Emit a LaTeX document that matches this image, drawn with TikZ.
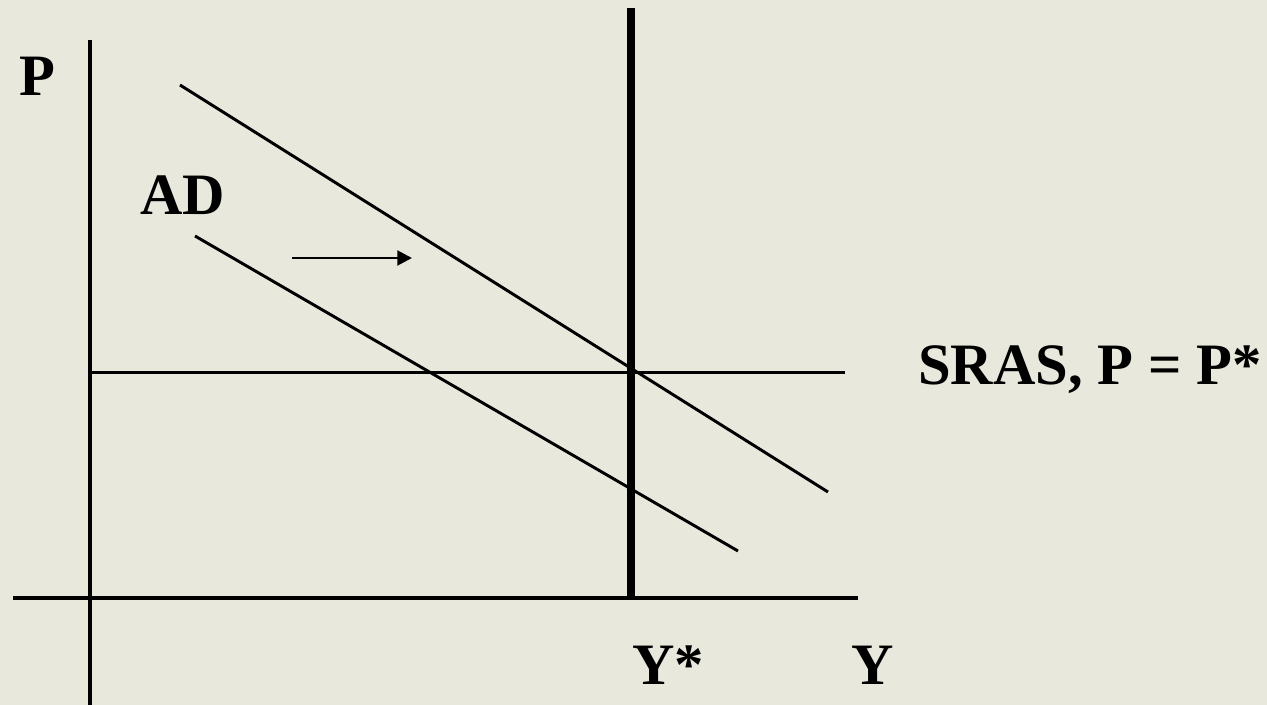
\documentclass[tikz,border=0pt]{standalone}
\usepackage{fontspec}
\setmainfont{Liberation Serif}
\usetikzlibrary{arrows.meta}
\definecolor{slidebg}{HTML}{E8E8DC}
\begin{document}
\begin{tikzpicture}[
    x=0.75pt, y=-0.75pt,
    axis/.style={line width=2.4pt},
    curve/.style={line width=2.2pt},
    lbl/.style={font=\fontsize{44}{46}\selectfont\bfseries, inner sep=0pt},
  ]
    \fill[slidebg] (0,0) rectangle (1267,705);
    \useasboundingbox (0,0) rectangle (1267,705);

    % Axes
    \coordinate (ytop) at (90,40);
    \coordinate (ybot) at (90,705);
    \coordinate (xleft) at (13,598);
    \coordinate (xright) at (858,598);
    \draw[axis] (ytop) -- (ybot);
    \draw[axis] (xleft) -- (xright);

    % LRAS at Y*
    \coordinate (lrastop) at (631,8);
    \coordinate (lrasbot) at (631,598);
    \draw[line width=6.5pt] (lrastop) -- (lrasbot);

    % SRAS
    \coordinate (srasl) at (90,372.5);
    \coordinate (srasr) at (845,372.5);
    \draw[curve] (srasl) -- (srasr);

    % AD curves
    \coordinate (adAs) at (180,85);
    \coordinate (adAe) at (828,492);
    \coordinate (adBs) at (195,236);
    \coordinate (adBe) at (738,551);
    \draw[curve] (adAs) -- (adAe);
    \draw[curve] (adBs) -- (adBe);

    % Shift
    \coordinate (shifts) at (292,258);
    \coordinate (shifte) at (412,258);
    \draw[curve, -{Triangle[length=11pt, width=11pt]}] (shifts) -- (shifte);

    % Labels
    \node[lbl] (plab) at (37,76) {P};
    \node[lbl] (adlab) at (183,195) {AD};
    \node[lbl, anchor=west] (sraslab) at (918,370) {SRAS, P = P*};
    \node[lbl] (ystarlab) at (668,665) {Y*};
    \node[lbl] (ylab) at (873,665) {Y};
\end{tikzpicture}
\end{document}
